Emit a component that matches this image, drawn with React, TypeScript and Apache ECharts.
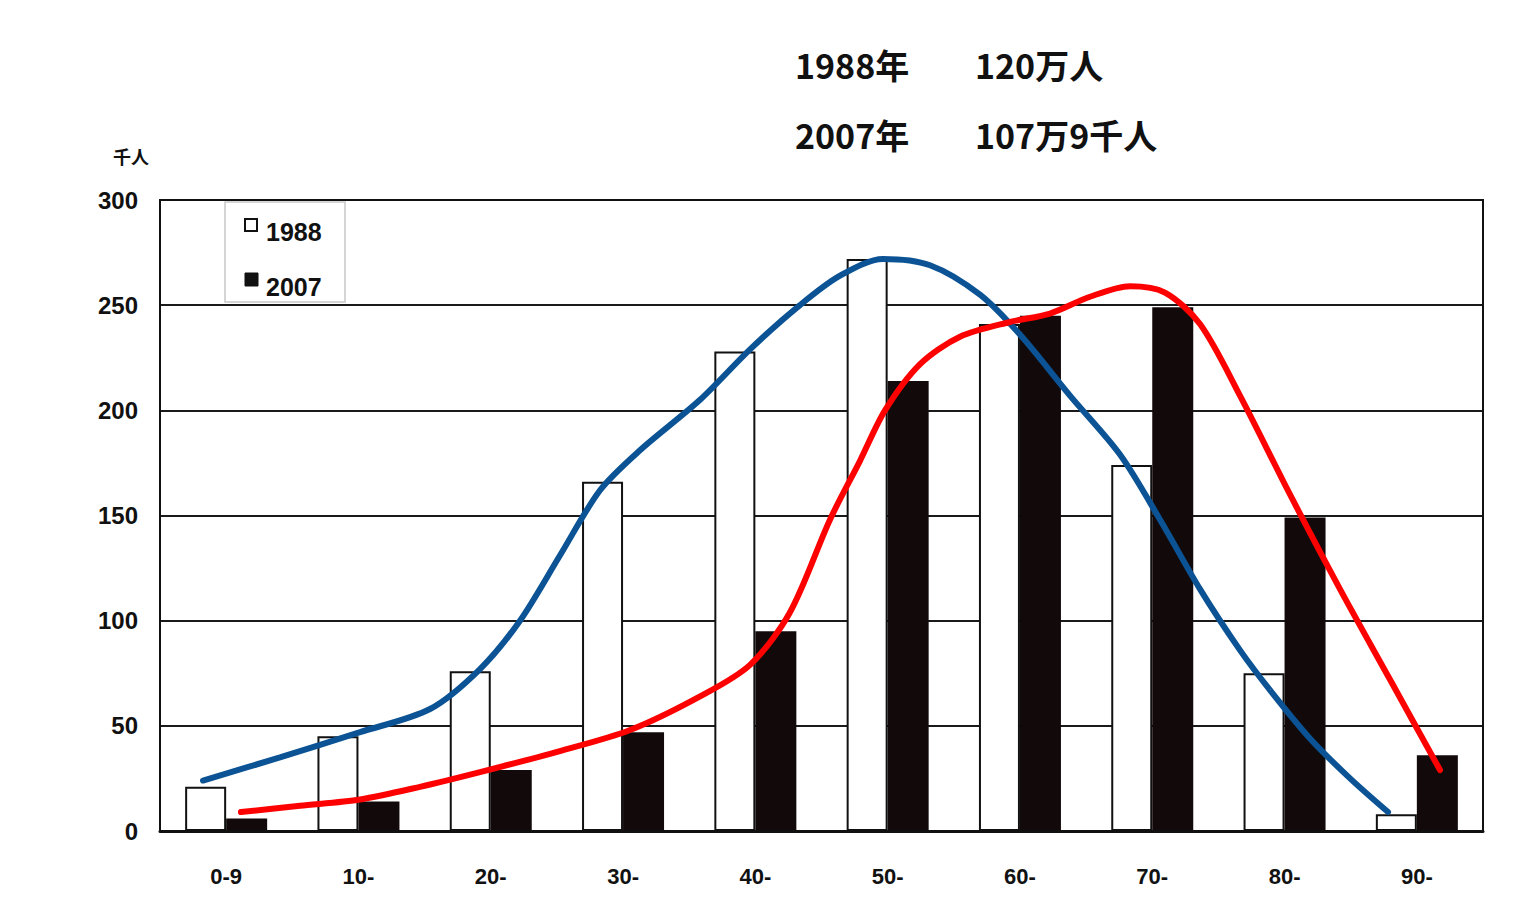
import React, { useEffect, useRef } from "react";
import * as echarts from "echarts";

const categories = ["0-9", "10-", "20-", "30-", "40-", "50-", "60-", "70-", "80-", "90-"];
const values1988 = [21, 45, 76, 166, 228, 272, 241, 174, 75, 8];
const values2007 = [6, 14, 29, 47, 95, 214, 245, 249, 149, 36];
const yTicks = [0, 50, 100, 150, 200, 250, 300];

// hand-drawn trend curves: [position along category axis (0..10), value]
const curve1988: [number, number][] = [
  [0.325, 24], [0.907, 35], [1.512, 47], [2.041, 58], [2.419, 77], [2.721, 100],
  [3.023, 131], [3.326, 162], [3.628, 181], [4.082, 205], [4.46, 229], [4.837, 250],
  [5.14, 264], [5.465, 272], [5.82, 269], [6.198, 255], [6.5, 236], [6.878, 207],
  [7.256, 179], [7.559, 148], [7.861, 115], [8.163, 86], [8.39, 67], [8.692, 44],
  [8.995, 25], [9.282, 9],
];
const curve2007: [number, number][] = [
  [0.612, 9], [1.058, 12], [1.512, 15], [1.965, 21], [2.419, 28], [3.023, 38],
  [3.553, 48], [4.082, 64], [4.46, 79], [4.762, 104], [5.064, 148], [5.291, 176],
  [5.48, 200], [5.745, 222], [6.047, 235], [6.425, 242], [6.727, 246], [7.029, 254],
  [7.332, 259], [7.596, 256], [7.861, 241], [8.163, 207], [8.541, 160], [8.919, 115],
  [9.297, 72], [9.675, 29],
];

const titleLines = [
  ["1988年", "120万人"],
  ["2007年", "107万9千人"],
];
const unitLabel = "千人";
const legendNames = ["1988", "2007"];

export default function App() {
  const ref = useRef<HTMLDivElement>(null);
  useEffect(() => {
    if (!ref.current) return;
    const chart = echarts.init(ref.current, null, { renderer: "svg" });
    const numFont = "'Liberation Sans', Arial, sans-serif";
    const cjkFont = "'Noto Sans CJK JP', sans-serif";
    chart.setOption({
      animation: false,
      backgroundColor: "#ffffff",
      grid: { left: 160, right: 41, top: 200, bottom: 81, containLabel: false },
      xAxis: [
        {
          type: "category",
          data: categories,
          boundaryGap: true,
          axisLine: { lineStyle: { color: "#111", width: 3 } },
          axisTick: { show: false },
          axisLabel: { fontSize: 22, fontWeight: "bold", color: "#111", margin: 34, fontFamily: numFont },
          splitLine: { show: false },
        },
        {
          type: "value",
          min: 0,
          max: 10,
          show: false,
        },
      ],
      yAxis: {
        type: "value",
        min: yTicks[0],
        max: yTicks[yTicks.length - 1],
        interval: 50,
        axisLine: { show: true, lineStyle: { color: "#111", width: 2 } },
        axisTick: { show: false },
        axisLabel: { fontSize: 24, fontWeight: "bold", color: "#111", margin: 22, fontFamily: numFont },
        splitLine: { show: true, lineStyle: { color: "#1a1a1a", width: 2 } },
      },
      series: [
        {
          name: legendNames[0],
          type: "bar",
          data: values1988,
          barWidth: 41,
          barGap: "0%",
          itemStyle: { color: "#ffffff", borderColor: "#111", borderWidth: 2 },
          z: 2,
        },
        {
          name: legendNames[1],
          type: "bar",
          data: values2007,
          barWidth: 41,
          barGap: "0%",
          itemStyle: { color: "#120a0a" },
          z: 2,
        },
        {
          type: "line",
          xAxisIndex: 1,
          data: curve1988,
          smooth: 0.3,
          showSymbol: false,
          lineStyle: { color: "#0b5394", width: 6, cap: "round" },
          z: 5,
        },
        {
          type: "line",
          xAxisIndex: 1,
          data: curve2007,
          smooth: 0.3,
          showSymbol: false,
          lineStyle: { color: "#ff0000", width: 6, cap: "round" },
          z: 6,
        },
      ],
      graphic: [
        {
          type: "rect",
          shape: { x: 160, y: 200, width: 1323, height: 631 },
          style: { fill: "none", stroke: "#111", lineWidth: 2 },
          silent: true,
          z: 10,
        },
        {
          type: "rect",
          shape: { x: 225, y: 202, width: 120, height: 100 },
          style: { fill: "#ffffff", stroke: "#c8c8c8", lineWidth: 1.5 },
          z: 8,
        },
        {
          type: "rect",
          shape: { x: 245, y: 219, width: 12, height: 12 },
          style: { fill: "#ffffff", stroke: "#111", lineWidth: 2 },
          z: 9,
        },
        {
          type: "text",
          x: 266, y: 232,
          style: { text: legendNames[0], fontSize: 25, fontWeight: "bold", fill: "#111", fontFamily: numFont, verticalAlign: "middle" },
          z: 9,
        },
        {
          type: "rect",
          shape: { x: 245, y: 273, width: 13, height: 13 },
          style: { fill: "#111", stroke: "#111", lineWidth: 1 },
          z: 9,
        },
        {
          type: "text",
          x: 266, y: 287,
          style: { text: legendNames[1], fontSize: 25, fontWeight: "bold", fill: "#111", fontFamily: numFont, verticalAlign: "middle" },
          z: 9,
        },
        {
          type: "text",
          x: 113, y: 156,
          style: { text: unitLabel, fontSize: 18, fontWeight: "bold", fill: "#111", fontFamily: cjkFont, verticalAlign: "middle" },
        },
        {
          type: "text",
          x: 795, y: 64,
          style: { text: titleLines[0][0], fontSize: 34, fontWeight: "bold", fill: "#111", fontFamily: cjkFont, verticalAlign: "middle" },
        },
        {
          type: "text",
          x: 975, y: 64,
          style: { text: titleLines[0][1], fontSize: 34, fontWeight: "bold", fill: "#111", fontFamily: cjkFont, verticalAlign: "middle" },
        },
        {
          type: "text",
          x: 795, y: 134,
          style: { text: titleLines[1][0], fontSize: 34, fontWeight: "bold", fill: "#111", fontFamily: cjkFont, verticalAlign: "middle" },
        },
        {
          type: "text",
          x: 975, y: 134,
          style: { text: titleLines[1][1], fontSize: 34, fontWeight: "bold", fill: "#111", fontFamily: cjkFont, verticalAlign: "middle" },
        },
      ],
    });
    return () => chart.dispose();
  }, []);
  return (
    <div
      ref={ref}
      style={{ position: "fixed", left: 0, top: 0, width: 1524, height: 912, background: "#fff" }}
    />
  );
}
